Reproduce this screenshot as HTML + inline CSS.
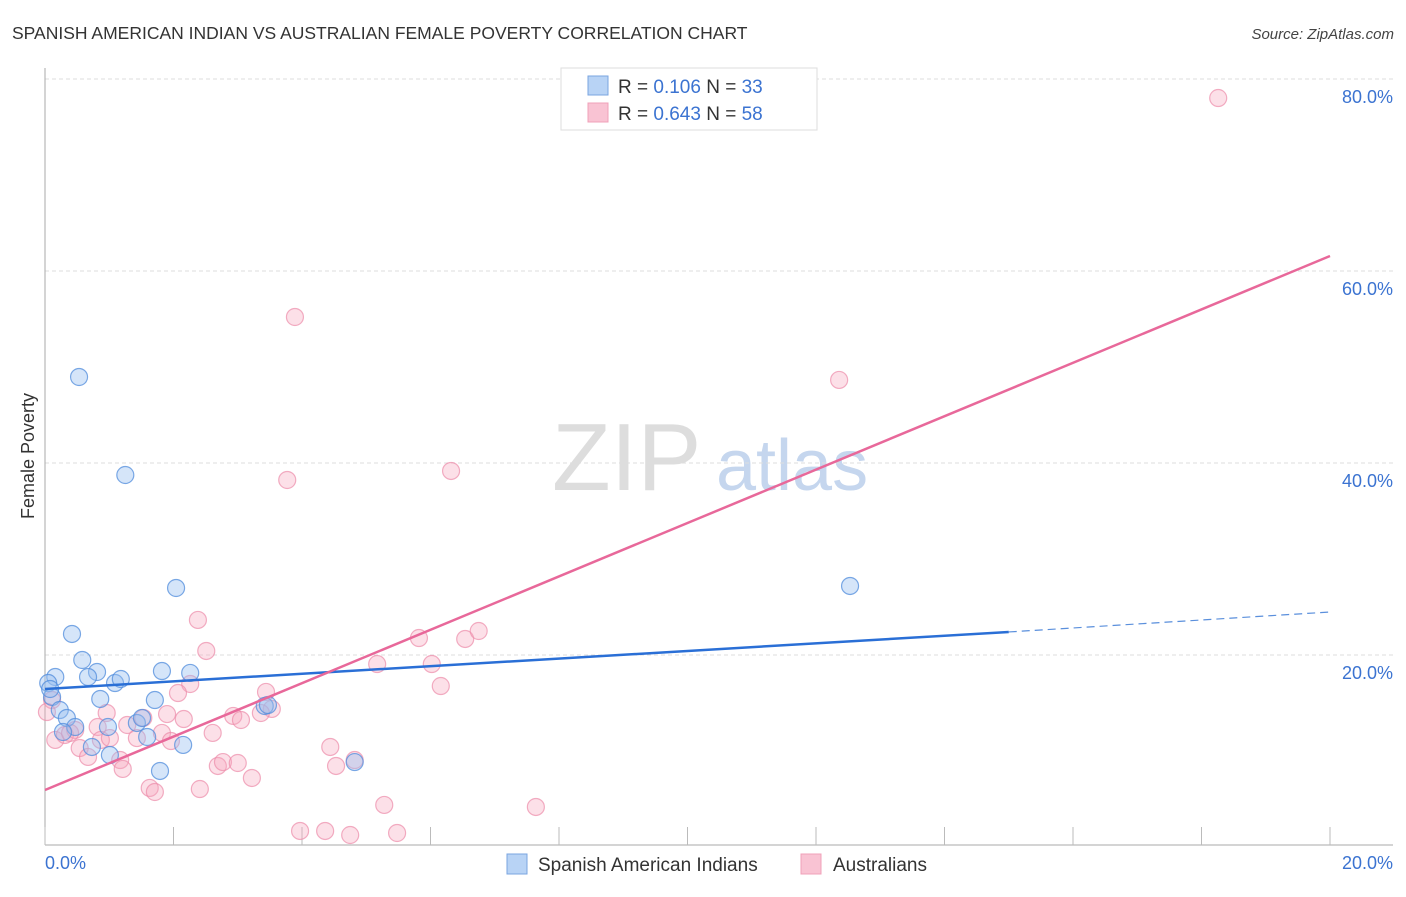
<!DOCTYPE html>
<html><head><meta charset="utf-8"><style>
body{margin:0;background:#fff;font-family:"Liberation Sans",sans-serif}
svg text{font-family:"Liberation Sans",sans-serif}
</style></head><body>
<svg id="chart" width="1406" height="892" xmlns="http://www.w3.org/2000/svg">
<text x="12" y="39" font-size="17.5" fill="#333">SPANISH AMERICAN INDIAN VS AUSTRALIAN FEMALE POVERTY CORRELATION CHART</text>
<text x="1394" y="39" font-size="15" fill="#444" font-style="italic" text-anchor="end">Source: ZipAtlas.com</text>
<text transform="translate(34,456) rotate(-90)" font-size="18" fill="#333" text-anchor="middle">Female Poverty</text>
<g>
<text x="552" y="490" font-size="96" fill="#ddd" font-family="Liberation Serif, serif">ZIP</text>
<text x="716" y="490" font-size="72" fill="#c5d6ee">atlas</text>
</g>
<g id="grid"></g>
<g id="marks"></g>
<g>
<rect x="561" y="68" width="256" height="62" fill="#fff" stroke="#ddd"/>
<rect x="588" y="76" width="20" height="19" fill="#b8d3f5" stroke="#7aa5e0"/>
<rect x="588" y="103" width="20" height="19" fill="#f9c3d3" stroke="#f0a0b8"/>
<text x="618" y="93" font-size="19" fill="#333">R = <tspan fill="#3b73d1">0.106</tspan>   N = <tspan fill="#3b73d1">33</tspan></text>
<text x="618" y="120" font-size="19" fill="#333">R = <tspan fill="#3b73d1">0.643</tspan>   N = <tspan fill="#3b73d1">58</tspan></text>
</g>
<g>
<rect x="507" y="854" width="20" height="20" fill="#b8d3f5" stroke="#7aa5e0"/>
<text x="538" y="871" font-size="19" fill="#333">Spanish American Indians</text>
<rect x="801" y="854" width="20" height="20" fill="#f9c3d3" stroke="#f0a0b8"/>
<text x="833" y="871" font-size="19" fill="#333">Australians</text>
</g>
</svg>
<script>
const xTicks=[0,2,4,6,8,10,12,14,16,18,20];
const yTicks=[20,40,60,80];
const yTickLabels=["20.0%","40.0%","60.0%","80.0%"];
const blueX=[0.53,1.25,2.04,12.53,0.42,0.58,0.16,0.81,0.67,1.09,1.18,1.82,2.26,0.05,0.11,0.86,1.71,0.23,0.34,0.47,0.28,0.73,0.98,1.01,1.43,1.51,1.59,2.15,1.79,3.42,3.47,4.82,0.08];
const blueY=[48.96,38.75,26.98,27.19,22.19,19.48,17.71,18.23,17.71,17.08,17.5,18.33,18.13,17.08,15.63,15.42,15.31,14.27,13.44,12.5,11.98,10.42,12.5,9.58,12.92,13.44,11.46,10.63,7.92,14.69,14.79,8.85,16.46];
const pinkX=[18.26,3.89,12.36,3.77,6.32,2.38,5.82,6.54,6.75,2.51,6.02,5.17,6.16,2.26,2.07,3.44,3.53,3.36,2.93,3.05,2.16,1.90,0.96,0.11,0.03,0.16,0.31,0.47,0.82,0.87,1.01,1.28,1.43,1.53,1.82,1.96,2.61,0.54,0.67,1.17,1.21,2.69,2.77,3.00,3.22,4.44,4.53,4.82,1.63,1.71,2.41,5.28,7.64,3.97,4.36,4.75,5.48,0.39];
const pinkY=[78.02,55.21,48.65,38.23,39.17,23.65,21.77,21.67,22.5,20.42,19.06,19.06,16.77,16.98,16.04,16.15,14.38,13.96,13.65,13.23,13.33,13.85,13.96,15.31,14.06,11.15,11.67,12.19,12.5,11.15,11.35,12.71,11.35,13.44,11.88,11.04,11.88,10.31,9.38,9.06,8.13,8.44,8.85,8.75,7.19,10.42,8.44,9.06,6.15,5.73,6.04,4.38,4.17,1.67,1.67,1.25,1.46,11.88];
const blueTrend=[16.46,22.4,24.48]; // at x=0,15,20
const pinkTrend=[5.94,61.56]; // at x=0,20
const NS="http://www.w3.org/2000/svg";
const sx=v=>45+v*64.25, sy=v=>847-v*9.6;
const grid=document.getElementById('grid'), marks=document.getElementById('marks'), svg=document.getElementById('chart');
function mk(tag,attrs,parent){const e=document.createElementNS(NS,tag);for(const k in attrs)e.setAttribute(k,attrs[k]);parent.appendChild(e);return e;}
yTicks.forEach((t,i)=>{
 const l=mk('line',{x1:45,x2:1393,y1:sy(t),y2:sy(t),stroke:'#ddd','stroke-dasharray':'4,3'},grid);
 
 
 const tx=mk('text',{x:1393,y:sy(t)+24,'font-size':18,fill:'#3b73d1','text-anchor':'end'},grid);
 tx.textContent=yTickLabels[i];
 
 
});
const ax=mk('line',{x1:45,x2:1393,y1:845,y2:845,stroke:'#aaa'},grid);


const ay=mk('line',{x1:45,x2:45,y1:68,y2:845,stroke:'#aaa'},grid);


xTicks.forEach(t=>{
 const l=mk('line',{x1:sx(t),x2:sx(t),y1:827,y2:845,stroke:'#bbb'},grid);
 
 
});
const x0=mk('text',{x:45,y:869,'font-size':18,fill:'#3b73d1'},grid);x0.textContent='0.0%';


const x1=mk('text',{x:1393,y:869,'font-size':18,fill:'#3b73d1','text-anchor':'end'},grid);x1.textContent='20.0%';


pinkX.forEach((v,i)=>{
 const c=mk('circle',{cx:sx(v),cy:sy(pinkY[i]),r:8.5,fill:'rgba(245,165,190,0.35)',stroke:'rgba(236,140,170,0.7)','stroke-width':1.2},marks);
 
 
});
blueX.forEach((v,i)=>{
 const c=mk('circle',{cx:sx(v),cy:sy(blueY[i]),r:8.5,fill:'rgba(150,190,240,0.4)',stroke:'rgba(80,140,220,0.75)','stroke-width':1.2},marks);
 
 
});
const bt=mk('line',{x1:sx(0),y1:sy(blueTrend[0]),x2:sx(15),y2:sy(blueTrend[1]),stroke:'#2a6fd6','stroke-width':2.5},marks);


const bd=mk('line',{x1:sx(15),y1:sy(blueTrend[1]),x2:sx(20),y2:sy(blueTrend[2]),stroke:'#5a8fdc','stroke-width':1.2,'stroke-dasharray':'8,5'},marks);


const pt=mk('line',{x1:sx(0),y1:sy(pinkTrend[0]),x2:sx(20),y2:sy(pinkTrend[1]),stroke:'#e8689a','stroke-width':2.5},marks);


</script>
</body></html>
